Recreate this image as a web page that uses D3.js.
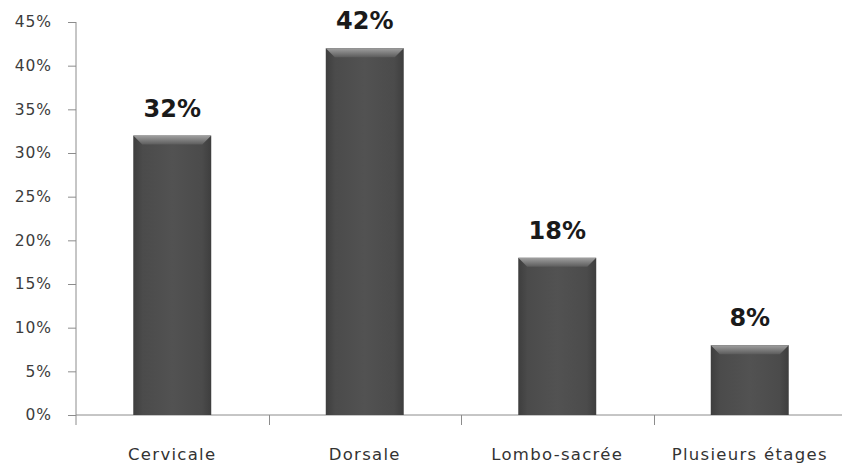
<!DOCTYPE html>
<html>
<head>
<meta charset="utf-8">
<script src="https://cdn.jsdelivr.net/npm/d3@7"></script>
<style>
  html, body { margin: 0; padding: 0; background: #fff; }
  svg { display: block; }
</style>
</head>
<body>
<svg id="chart" width="842" height="469"></svg>
<script>
// Répartition par niveau
const categories = ["Cervicale", "Dorsale", "Lombo-sacrée", "Plusieurs étages"];
const values = [32, 42, 18, 8];
const yTicks = [0, 5, 10, 15, 20, 25, 30, 35, 40, 45];

const svg = d3.select("#chart");
const W = 842;
const plotBottom = 415;

const x = d3.scaleBand().domain(categories).range([76, 846]).padding(0);
const y = d3.scaleLinear().domain([0, 45]).range([plotBottom, 22]);

const barW = x.bandwidth() * 0.405;

// Bar shading: slightly darker edges, flat centre
const defs = svg.append("defs");
const g = defs.append("linearGradient").attr("id", "barGrad")
  .attr("x1", "0").attr("x2", "1").attr("y1", "0").attr("y2", "0");
g.append("stop").attr("offset", "0%").attr("stop-color", "#3e3e3e");
g.append("stop").attr("offset", "12%").attr("stop-color", "#4b4b4b");
g.append("stop").attr("offset", "50%").attr("stop-color", "#525252");
g.append("stop").attr("offset", "88%").attr("stop-color", "#4b4b4b");
g.append("stop").attr("offset", "100%").attr("stop-color", "#3e3e3e");

const bevel = defs.append("linearGradient").attr("id", "bevelGrad")
  .attr("x1", "0").attr("x2", "0").attr("y1", "0").attr("y2", "1");
bevel.append("stop").attr("offset", "0%").attr("stop-color", "#a0a0a0");
bevel.append("stop").attr("offset", "100%").attr("stop-color", "#5c5c5c");

// y axis
const yAxis = d3.axisLeft(y).tickValues(yTicks).tickFormat(d => d + "%")
  .tickSize(8).tickPadding(16);
const yG = svg.append("g").attr("transform", "translate(76,0)").call(yAxis);
yG.select(".domain").attr("stroke", "#8c8c8c").attr("d", `M0,${y(45)}V${plotBottom + 10}`);
yG.selectAll(".tick line").attr("stroke", "#8c8c8c");
yG.selectAll(".tick text")
  .attr("font-family", "DejaVu Sans, sans-serif")
  .attr("font-size", 15.5)
  .attr("letter-spacing", 0.9)
  .attr("fill", "#3c3c3c");

// x axis baseline and separators between categories
svg.append("line").attr("x1", 76).attr("x2", W).attr("y1", plotBottom).attr("y2", plotBottom)
  .attr("stroke", "#8c8c8c");
const seps = categories.slice(1).map(c => x(c));
svg.selectAll(".sep").data(seps).enter().append("line")
  .attr("x1", d => Math.round(d) + 0.5).attr("x2", d => Math.round(d) + 0.5)
  .attr("y1", plotBottom).attr("y2", plotBottom + 10)
  .attr("stroke", "#8c8c8c");

// x labels
svg.selectAll(".xlab").data(categories).enter().append("text")
  .attr("x", d => x(d) + x.bandwidth() / 2)
  .attr("y", 460)
  .attr("text-anchor", "middle")
  .attr("font-family", "DejaVu Sans, sans-serif")
  .attr("font-size", 16.5)
  .attr("letter-spacing", 1.3)
  .attr("fill", "#333")
  .text(d => d);

// bars
const data = categories.map((c, i) => ({ c, v: values[i] }));
const bars = svg.selectAll(".bar").data(data).enter().append("g");
bars.append("rect")
  .attr("x", d => x(d.c) + (x.bandwidth() - barW) / 2)
  .attr("y", d => y(d.v))
  .attr("width", barW)
  .attr("height", d => plotBottom - y(d.v))
  .attr("fill", "url(#barGrad)");
// top bevel
bars.append("path")
  .attr("d", d => {
    const x0 = x(d.c) + (x.bandwidth() - barW) / 2, x1 = x0 + barW, t = y(d.v), b = 9;
    return `M${x0},${t}H${x1}L${x1 - b},${t + b}H${x0 + b}Z`;
  })
  .attr("fill", "url(#bevelGrad)");

// value labels
bars.append("text")
  .attr("x", d => x(d.c) + x.bandwidth() / 2)
  .attr("y", d => y(d.v) - 19)
  .attr("text-anchor", "middle")
  .attr("font-family", "DejaVu Sans, sans-serif")
  .attr("font-weight", "bold")
  .attr("font-size", 24)
  .attr("fill", "#1a1a1a")
  .text(d => d.v + "%");
</script>
</body>
</html>
